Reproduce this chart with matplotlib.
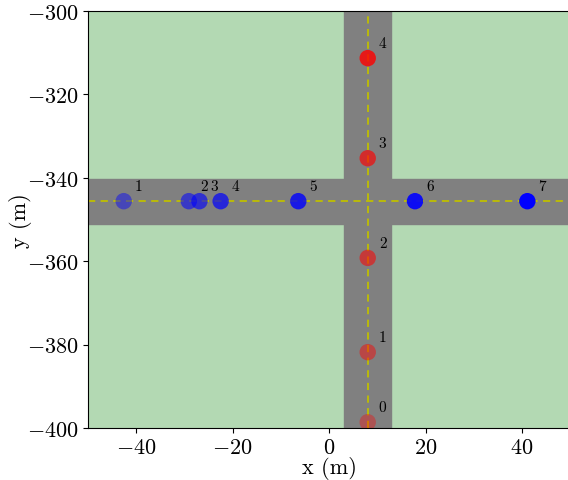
import matplotlib
matplotlib.use("Agg")
import matplotlib.pyplot as plt
import matplotlib.patches as patches

plt.rcParams["font.family"] = "serif"
plt.rcParams["font.serif"] = ["cmr10"]
plt.rcParams["mathtext.fontset"] = "cm"
plt.rcParams["axes.formatter.use_mathtext"] = True

# scene
x_lim = (-50, 50)
y_lim = (-400, -300)
road_h_y = -345.6   # centre of horizontal road
road_v_x = 8.0      # centre of vertical road
road_h_width = 10.8
road_v_width = 9.8

# vehicles on horizontal road (blue), indices 1..7
blue_ids = [1, 2, 3, 4, 5, 6, 7]
blue_x = [-42.6, -29.1, -26.9, -22.5, -6.4, 17.8, 41.1]
blue_alpha = [0.45, 0.55, 0.62, 0.7, 0.8, 0.9, 1.0]

# vehicles on vertical road (red), indices 0..4
red_ids = [0, 1, 2, 3, 4]
red_y = [-398.6, -381.8, -359.2, -335.3, -311.3]
red_alpha = [0.35, 0.45, 0.55, 0.65, 0.8]

fig = plt.figure(figsize=(5.68, 4.81), dpi=100)
ax = fig.add_axes([0.155, 0.108, 0.849, 0.867])

ax.set_facecolor((0.70, 0.85, 0.70))
ax.add_patch(patches.Rectangle((x_lim[0], road_h_y - road_h_width / 2),
                               x_lim[1] - x_lim[0], road_h_width,
                               color="gray", zorder=1))
ax.add_patch(patches.Rectangle((road_v_x - road_v_width / 2, y_lim[0]),
                               road_v_width, y_lim[1] - y_lim[0],
                               color="gray", zorder=1))
ax.plot(x_lim, [road_h_y, road_h_y], color="y", lw=1.3,
        linestyle=(0, (4, 3)), zorder=2)
ax.plot([road_v_x, road_v_x], y_lim, color="y", lw=1.3,
        linestyle=(0, (4, 3)), zorder=2)

for i, x, a in zip(blue_ids, blue_x, blue_alpha):
    ax.scatter(x, road_h_y, s=140, color="blue", alpha=a, edgecolors="none", zorder=3)
    ax.text(x + 2.3, road_h_y + 2.6, str(i), fontsize=11, zorder=4)

for i, y, a in zip(red_ids, red_y, red_alpha):
    ax.scatter(road_v_x, y, s=140, color="red", alpha=a, edgecolors="none", zorder=3)
    ax.text(road_v_x + 2.3, y + 2.6, str(i), fontsize=11, zorder=4)

ax.set_xlim(x_lim)
ax.set_ylim(y_lim)
ax.set_xticks([-40, -20, 0, 20, 40])
ax.set_yticks([-400, -380, -360, -340, -320, -300])
ax.tick_params(labelsize=16)
ax.set_xlabel("x (m)", fontsize=16, labelpad=-1)
ax.set_ylabel("y (m)", fontsize=16, labelpad=-4)

fig.savefig("out.png", dpi=100)
